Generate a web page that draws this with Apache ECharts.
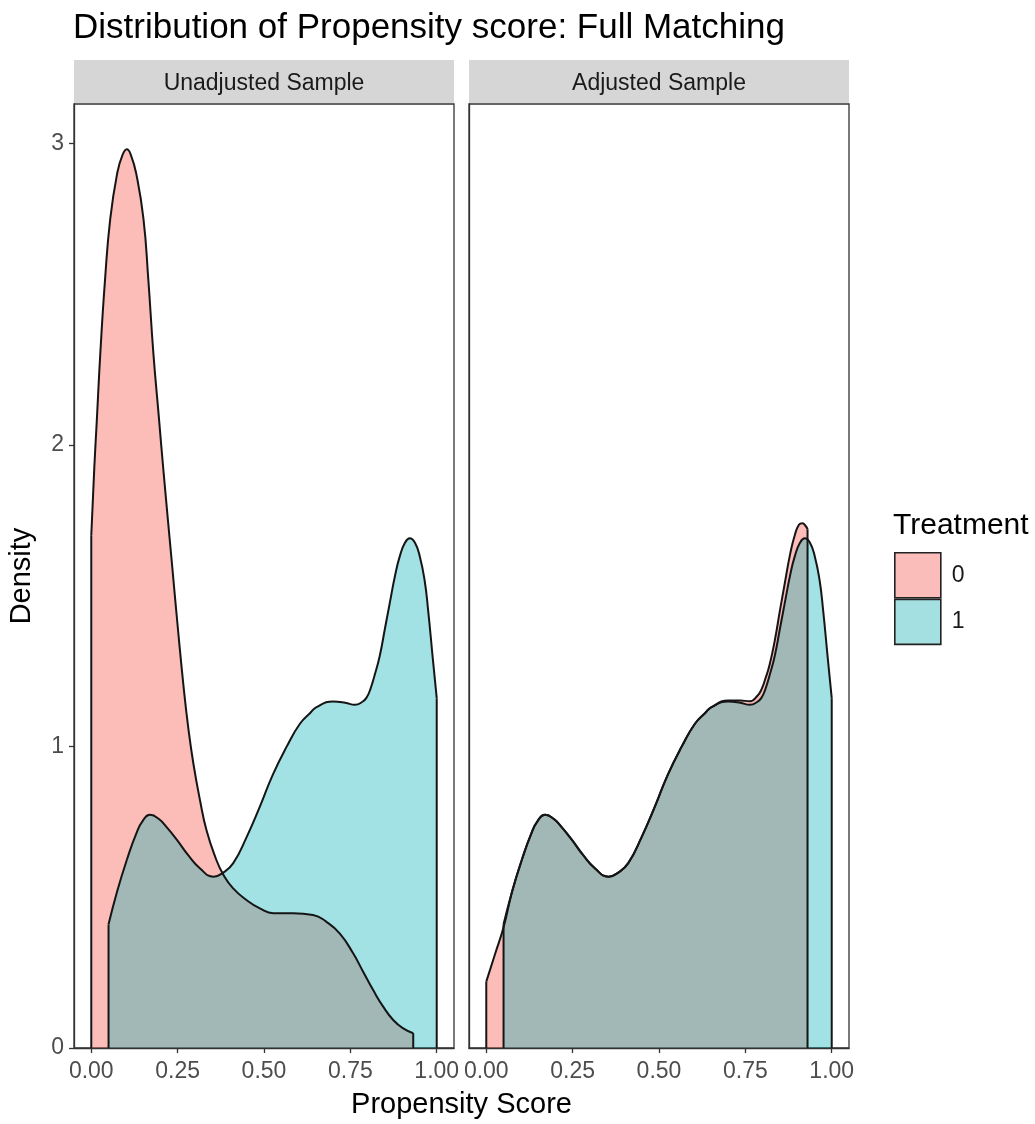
<!DOCTYPE html>
<html><head><meta charset="utf-8">
<script src="https://cdn.jsdelivr.net/npm/echarts@6/dist/echarts.min.js"></script>
<style>html,body{margin:0;padding:0;background:#fff}#c{width:1035px;height:1124px}</style>
</head><body><div id="c"></div>
<script>
// ---------- data ----------
const titleText = 'Distribution of Propensity score: Full Matching';
const panelNames = ['Unadjusted Sample', 'Adjusted Sample'];
const groupNames = ['0', '1'];
const legendTitle = 'Treatment';
const xAxisTitle = 'Propensity Score';
const yAxisTitle = 'Density';
const xTicks = [0, 0.25, 0.5, 0.75, 1];
const xTickLabels = ['0.00', '0.25', '0.50', '0.75', '1.00'];
const yTicks = [0, 1, 2, 3];
const yTickLabels = ['0', '1', '2', '3'];

// Unadjusted sample, control group (0)
const unadjCtrlX = [0, 0.009, 0.016, 0.026, 0.04, 0.055, 0.075, 0.09, 0.103, 0.115, 0.13, 0.151, 0.165, 0.18, 0.195, 0.21, 0.234, 0.25, 0.267, 0.281, 0.296, 0.315, 0.334, 0.36, 0.382, 0.41, 0.45, 0.488, 0.527, 0.584, 0.642, 0.68, 0.719, 0.758, 0.787, 0.816, 0.845, 0.874, 0.903, 0.932];
const unadjCtrlY = [1.70, 1.93, 2.08, 2.30, 2.55, 2.75, 2.90, 2.96, 2.98, 2.96, 2.90, 2.75, 2.55, 2.30, 2.10, 1.90, 1.60, 1.40, 1.20, 1.06, 0.94, 0.82, 0.72, 0.63, 0.575, 0.53, 0.49, 0.463, 0.447, 0.447, 0.441, 0.419, 0.38, 0.314, 0.253, 0.192, 0.137, 0.093, 0.065, 0.049];

// Treated group (1) – same in both panels
const treatX = [0.05, 0.075, 0.103, 0.13, 0.15, 0.171, 0.195, 0.22, 0.248, 0.28, 0.315, 0.354, 0.38, 0.411, 0.45, 0.488, 0.525, 0.566, 0.604, 0.633, 0.652, 0.70, 0.735, 0.763, 0.785, 0.797, 0.808, 0.82, 0.835, 0.85, 0.864, 0.88, 0.893, 0.908, 0.922, 0.937, 0.951, 0.965, 0.975, 0.989, 1.0];
const treatY = [0.41, 0.52, 0.624, 0.71, 0.755, 0.773, 0.76, 0.73, 0.69, 0.64, 0.595, 0.568, 0.58, 0.613, 0.70, 0.80, 0.905, 1.0, 1.075, 1.11, 1.13, 1.149, 1.145, 1.138, 1.148, 1.162, 1.19, 1.235, 1.30, 1.39, 1.475, 1.57, 1.63, 1.675, 1.69, 1.675, 1.63, 1.55, 1.453, 1.287, 1.16];

// Adjusted sample, control group (0)
const adjCtrlX = [0, 0.025, 0.05, 0.075, 0.103, 0.13, 0.15, 0.171, 0.195, 0.22, 0.248, 0.28, 0.315, 0.354, 0.38, 0.411, 0.45, 0.488, 0.525, 0.566, 0.604, 0.633, 0.652, 0.70, 0.735, 0.763, 0.785, 0.797, 0.808, 0.82, 0.835, 0.85, 0.864, 0.88, 0.893, 0.905, 0.915, 0.925, 0.93];
const adjCtrlY = [0.22, 0.31, 0.40, 0.52, 0.624, 0.71, 0.755, 0.773, 0.76, 0.73, 0.69, 0.64, 0.595, 0.568, 0.58, 0.613, 0.70, 0.80, 0.905, 1.0, 1.075, 1.11, 1.13, 1.152, 1.152, 1.15, 1.168, 1.19, 1.225, 1.27, 1.35, 1.45, 1.54, 1.64, 1.70, 1.735, 1.74, 1.73, 1.72];

// ---------- style / layout ----------
const FONT = 'Liberation Sans, Arial, Helvetica, sans-serif';
const PANEL_LEFT = [74, 469];
const PANEL_W = 380;
const PANEL_TOP = 104;
const PANEL_H = 944;
const STRIP_H = 43;
const X_MIN = -0.05, X_MAX = 1.05, Y_MIN = 0, Y_MAX = 3.13;
const PINK_FILL = 'rgba(248,118,109,0.48)';
const TEAL_FILL = 'rgba(0,175,180,0.36)';
const PINK_KEY = '#FABDBA';
const TEAL_KEY = '#A4E0E1';
const OUTLINE = '#151515';
const LW = 2;

function pairs(xs, ys) { return xs.map((x, i) => [x, ys[i]]); }

function densitySeries(name, xs, ys, fill, idx) {
  const n = xs.length - 1;
  return [
    {
      type: 'line', name: name, xAxisIndex: idx, yAxisIndex: idx,
      data: pairs(xs, ys),
      smooth: 0.5, symbol: 'none',
      lineStyle: { color: OUTLINE, width: LW },
      itemStyle: { color: fill },
      areaStyle: { color: fill, opacity: 1 },
      emphasis: { disabled: true }, silent: true
    },
    { // left edge of the density outline
      type: 'line', name: 'edge', xAxisIndex: idx, yAxisIndex: idx,
      data: [[xs[0], 0], [xs[0], ys[0]]], symbol: 'none',
      lineStyle: { color: OUTLINE, width: LW }, emphasis: { disabled: true }, silent: true
    },
    { // right edge of the density outline
      type: 'line', name: 'edge', xAxisIndex: idx, yAxisIndex: idx,
      data: [[xs[n], ys[n]], [xs[n], 0]], symbol: 'none',
      lineStyle: { color: OUTLINE, width: LW }, emphasis: { disabled: true }, silent: true
    }
  ];
}

const grids = PANEL_LEFT.map(l => ({
  left: l, top: PANEL_TOP, width: PANEL_W, height: PANEL_H,
  show: true, borderColor: '#333', borderWidth: 1.3, backgroundColor: '#fff'
}));

const xAxes = PANEL_LEFT.map((l, i) => ({
  type: 'value', gridIndex: i, min: X_MIN, max: X_MAX, z: 5,
  axisLine: { show: true, onZero: false, lineStyle: { color: '#333', width: 1.3 } },
  axisTick: { show: true, length: 5, customValues: xTicks, lineStyle: { color: '#333', width: 1.3 } },
  axisLabel: { show: true, customValues: xTicks, margin: 12, fontSize: 23, color: '#4D4D4D', fontFamily: FONT,
    formatter: v => xTickLabels[xTicks.indexOf(v)] },
  splitLine: { show: false }
}));

const yAxes = PANEL_LEFT.map((l, i) => ({
  type: 'value', gridIndex: i, min: Y_MIN, max: Y_MAX, z: 5,
  axisLine: { show: true, onZero: false, lineStyle: { color: '#333', width: 1.3 } },
  axisTick: { show: i === 0, length: 5, customValues: yTicks, lineStyle: { color: '#333', width: 1.3 } },
  axisLabel: { show: i === 0, customValues: yTicks, margin: 10, fontSize: 23, color: '#4D4D4D', fontFamily: FONT,
    formatter: v => yTickLabels[yTicks.indexOf(v)] },
  splitLine: { show: false },
  name: i === 0 ? yAxisTitle : '', nameLocation: 'middle', nameGap: 38,
  nameTextStyle: { fontSize: 29, color: '#000', fontFamily: FONT }
}));

const graphics = [];
PANEL_LEFT.forEach((l, i) => {
  graphics.push({ type: 'rect', left: l, top: PANEL_TOP - STRIP_H - 1, shape: { width: PANEL_W, height: STRIP_H },
    style: { fill: '#D6D6D6' }, z: 10 });
  graphics.push({ type: 'text', x: l + PANEL_W / 2, y: PANEL_TOP - STRIP_H / 2 + 1,
    style: { text: panelNames[i], fill: '#1A1A1A', font: '23px ' + FONT, textAlign: 'center', textVerticalAlign: 'middle' }, z: 11 });
});
graphics.push({ type: 'text', x: (PANEL_LEFT[0] + PANEL_LEFT[1] + PANEL_W) / 2, y: 1105,
  style: { text: xAxisTitle, fill: '#000', font: '29px ' + FONT, textAlign: 'center', textVerticalAlign: 'middle' }, z: 11 });

const series = [].concat(
  densitySeries(groupNames[0], unadjCtrlX, unadjCtrlY, PINK_FILL, 0),
  densitySeries(groupNames[1], treatX, treatY, TEAL_FILL, 0),
  densitySeries(groupNames[0], adjCtrlX, adjCtrlY, PINK_FILL, 1),
  densitySeries(groupNames[1], treatX, treatY, TEAL_FILL, 1)
);

const option = {
  animation: false,
  backgroundColor: '#fff',
  title: [
    { text: titleText, left: 68, top: 6, textStyle: { fontSize: 35, fontWeight: 'normal', color: '#000', fontFamily: FONT } },
    { text: legendTitle, left: 888, top: 506, textStyle: { fontSize: 30, fontWeight: 'normal', color: '#000', fontFamily: FONT } }
  ],
  legend: {
    orient: 'vertical', left: 889, top: 547, itemWidth: 46, itemHeight: 45, itemGap: 0, icon: 'rect',
    selectedMode: false,
    data: [
      { name: groupNames[0], itemStyle: { color: PINK_KEY, borderColor: '#222', borderWidth: 1.6 } },
      { name: groupNames[1], itemStyle: { color: TEAL_KEY, borderColor: '#222', borderWidth: 1.6 } }
    ],
    textStyle: { fontSize: 23, color: '#1A1A1A', fontFamily: FONT, padding: [0, 0, 0, 6] }
  },
  grid: grids,
  xAxis: xAxes,
  yAxis: yAxes,
  graphic: graphics,
  series: series
};

const chart = echarts.init(document.getElementById('c'), null, { renderer: 'canvas' });
chart.setOption(option);
</script>
</body></html>
